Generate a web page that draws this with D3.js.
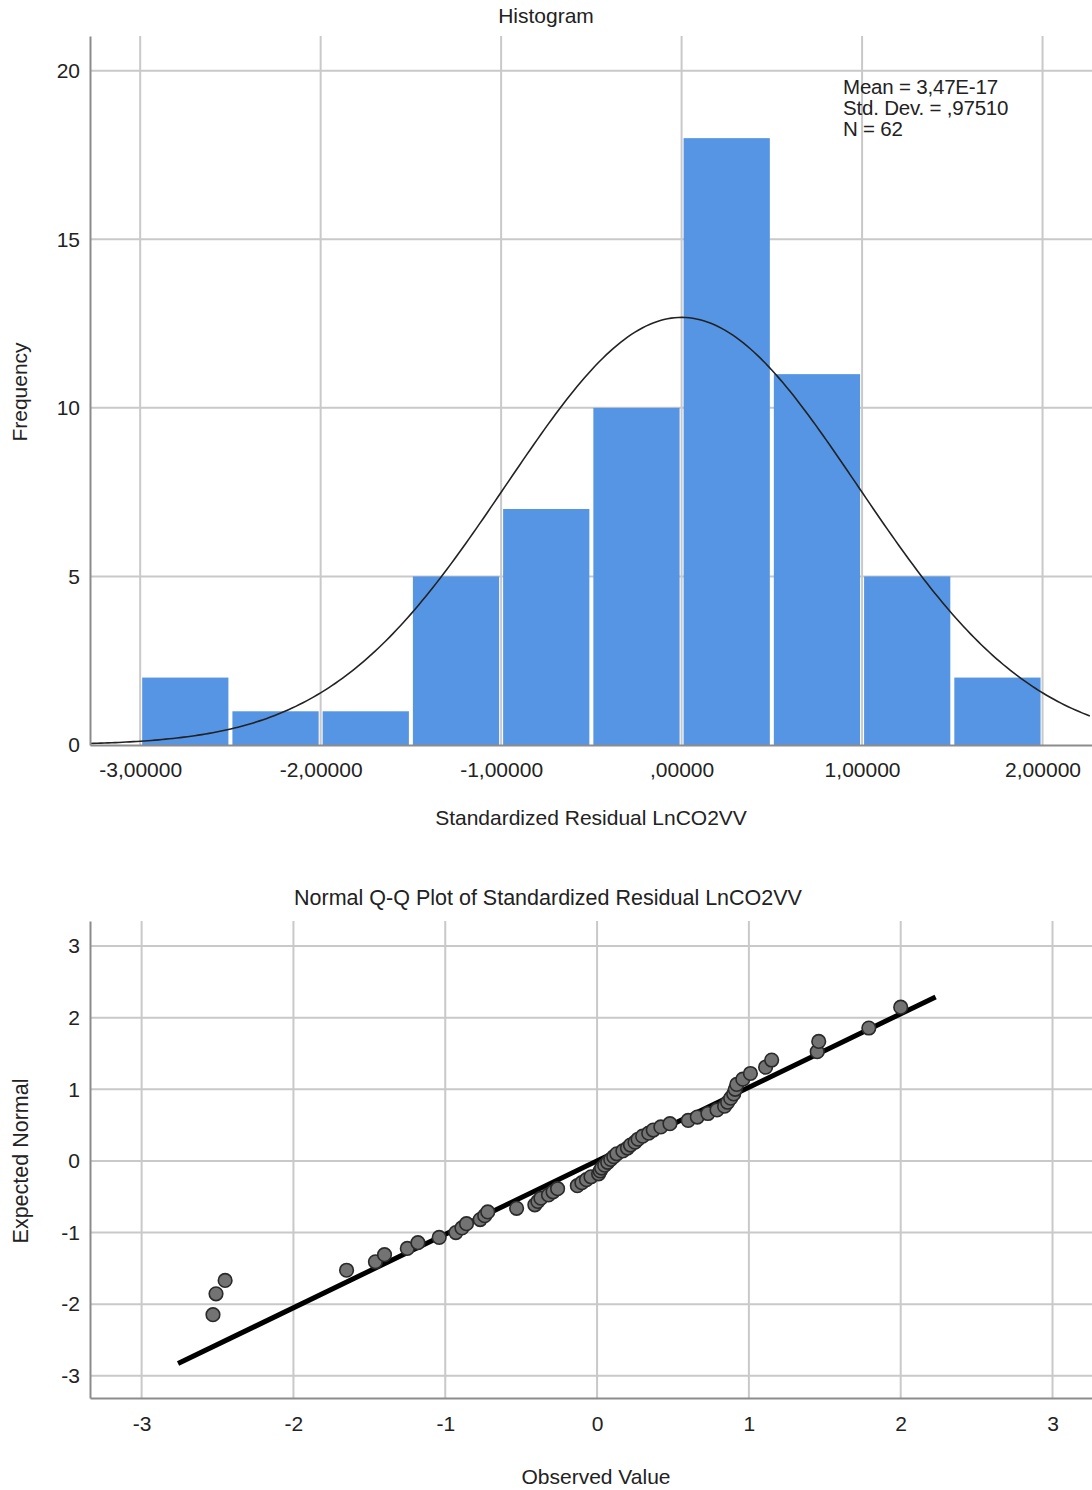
<!DOCTYPE html>
<html>
<head>
<meta charset="utf-8">
<script src="https://cdn.jsdelivr.net/npm/d3@7"></script>
<style>
  body { margin: 0; background: #fff; }
  svg text { font-family: "Liberation Sans", Arial, sans-serif; fill: #222; }
  .grid line { stroke: #c9c9c9; stroke-width: 2; }
  .axis path, .axis line { stroke: #8c8c8c; stroke-width: 2; }
</style>
</head>
<body>
<div id="chart"></div>
<script>
// histogram data
var histEdges = [-3, -2.5, -2, -1.5, -1, -0.5, 0, 0.5, 1, 1.5, 2];
var histCounts = [2, 1, 1, 5, 7, 10, 18, 11, 5, 2];
var histXTicks = [-3, -2, -1, 0, 1, 2];
var histXLabels = ["-3,00000", "-2,00000", "-1,00000", ",00000", "1,00000", "2,00000"];
var histYTicks = [0, 5, 10, 15, 20];
var statMean = 3.47e-17, statSD = 0.97510, statN = 62;
var statLines = ["Mean = 3,47E-17", "Std. Dev. = ,97510", "N = 62"];

// Q-Q data (observed residual, expected normal)
var qqObserved = [-2.53, -2.51, -2.45, -1.65, -1.46, -1.40, -1.25, -1.18, -1.04, -0.93,
  -0.89, -0.86, -0.77, -0.74, -0.72, -0.53, -0.41, -0.39, -0.37, -0.32,
  -0.29, -0.26, -0.13, -0.10, -0.07, -0.04, 0.01, 0.02, 0.03, 0.05,
  0.07, 0.09, 0.11, 0.13, 0.17, 0.20, 0.22, 0.25, 0.27, 0.30,
  0.34, 0.37, 0.42, 0.48, 0.60, 0.66, 0.73, 0.79, 0.84, 0.86,
  0.88, 0.90, 0.91, 0.92, 0.96, 1.01, 1.11, 1.15, 1.45, 1.46,
  1.79, 2.00];
var qqExpected = [-2.147, -1.856, -1.668, -1.526, -1.409, -1.309, -1.221, -1.141, -1.068, -1.000,
  -0.936, -0.876, -0.819, -0.765, -0.712, -0.662, -0.613, -0.566, -0.520, -0.475,
  -0.431, -0.388, -0.345, -0.303, -0.262, -0.221, -0.180, -0.140, -0.100, -0.060,
  -0.020, 0.020, 0.060, 0.100, 0.140, 0.180, 0.221, 0.262, 0.303, 0.345,
  0.388, 0.431, 0.475, 0.520, 0.566, 0.613, 0.662, 0.712, 0.765, 0.819,
  0.876, 0.936, 1.000, 1.068, 1.141, 1.221, 1.309, 1.409, 1.526, 1.668,
  1.856, 2.147];
var qqLineX = [-2.76, 2.23];
var qqLineY = [-2.83, 2.29];
var qqTicks = [-3, -2, -1, 0, 1, 2, 3];

var width = 1092, height = 1490;
var svg = d3.select('#chart').append('svg')
  .attr('width', width).attr('height', height);

var left = 90, right = 1092;
var fs = '21px';

// ---------- Histogram ----------
var hx = d3.scaleLinear().domain([-3.278, 2.274]).range([left, right]);
var hy = d3.scaleLinear().domain([0, 21.03]).range([745, 36]);

svg.append('text').attr('x', 546).attr('y', 23).attr('text-anchor', 'middle')
  .style('font-size', fs).text('Histogram');

var hg = svg.append('g');
hg.append('g').attr('class', 'grid')
  .selectAll('line').data(histYTicks.slice(1)).enter().append('line')
  .attr('x1', left).attr('x2', right)
  .attr('y1', function(d) { return hy(d); }).attr('y2', function(d) { return hy(d); });
hg.append('g').attr('class', 'grid')
  .selectAll('line').data(histXTicks).enter().append('line')
  .attr('x1', function(d) { return hx(d); }).attr('x2', function(d) { return hx(d); })
  .attr('y1', hy.range()[1]).attr('y2', hy(0));

var bins = histCounts.map(function(c, i) { return {x0: histEdges[i], x1: histEdges[i + 1], n: c}; });
hg.selectAll('.bar').data(bins).enter().append('rect')
  .attr('class', 'bar')
  .attr('x', function(d) { return hx(d.x0) + 2; })
  .attr('width', function(d) { return hx(d.x1) - hx(d.x0) - 4; })
  .attr('y', function(d) { return hy(d.n); })
  .attr('height', function(d) { return hy(0) - hy(d.n); })
  .attr('fill', '#5595e3');

// fitted normal curve from the reported mean / sd / N
var binW = histEdges[1] - histEdges[0];
var curve = d3.range(hx.domain()[0], hx.domain()[1] + 0.001, 0.02).map(function(v) {
  var z = (v - statMean) / statSD;
  return {x: v, y: statN * binW * Math.exp(-0.5 * z * z) / (statSD * Math.sqrt(2 * Math.PI))};
});
hg.append('path').datum(curve)
  .attr('d', d3.line().x(function(d) { return hx(d.x); }).y(function(d) { return hy(d.y); }))
  .attr('fill', 'none').attr('stroke', '#222').attr('stroke-width', 1.6);

hg.append('g').attr('class', 'axis')
  .attr('transform', 'translate(0,' + hy(0) + ')')
  .call(d3.axisBottom(hx).tickValues(histXTicks).tickSize(0)
    .tickFormat(function(d, i) { return histXLabels[i]; }))
  .call(function(g) { g.selectAll('text').attr('dy', '1.4em').style('font-size', fs); });
hg.append('g').attr('class', 'axis')
  .attr('transform', 'translate(' + left + ',0)')
  .call(d3.axisLeft(hy).tickValues(histYTicks).tickSize(0).tickPadding(10))
  .call(function(g) { g.selectAll('text').style('font-size', fs); });

hg.append('text').attr('transform', 'translate(27,392) rotate(-90)')
  .attr('text-anchor', 'middle').style('font-size', fs).text('Frequency');
hg.append('text').attr('x', (left + right) / 2).attr('y', 825)
  .attr('text-anchor', 'middle').style('font-size', fs).text('Standardized Residual LnCO2VV');

hg.append('g').selectAll('text').data(statLines).enter().append('text')
  .attr('x', 843).attr('y', function(d, i) { return 94 + i * 21; })
  .style('font-size', '20.5px').style('letter-spacing', '-0.2px').text(function(d) { return d; });

// ---------- Normal Q-Q plot ----------
var qx = d3.scaleLinear().domain([-3.34, 3.26]).range([left, right]);
var qy = d3.scaleLinear().domain([-3.31, 3.35]).range([1398, 921]);

svg.append('text').attr('x', 548).attr('y', 905).attr('text-anchor', 'middle')
  .style('font-size', '21.5px').text('Normal Q-Q Plot of Standardized Residual LnCO2VV');

var qg = svg.append('g');
qg.append('g').attr('class', 'grid')
  .selectAll('line').data(qqTicks).enter().append('line')
  .attr('x1', left).attr('x2', right)
  .attr('y1', function(d) { return qy(d); }).attr('y2', function(d) { return qy(d); });
qg.append('g').attr('class', 'grid')
  .selectAll('line').data(qqTicks).enter().append('line')
  .attr('x1', function(d) { return qx(d); }).attr('x2', function(d) { return qx(d); })
  .attr('y1', qy.range()[1]).attr('y2', qy.range()[0]);

qg.append('line')
  .attr('x1', qx(qqLineX[0])).attr('y1', qy(qqLineY[0]))
  .attr('x2', qx(qqLineX[1])).attr('y2', qy(qqLineY[1]))
  .attr('stroke', '#000').attr('stroke-width', 5);

var pts = qqObserved.map(function(v, i) { return {o: v, e: qqExpected[i]}; });
qg.selectAll('.pt').data(pts).enter().append('circle')
  .attr('class', 'pt')
  .attr('cx', function(d) { return qx(d.o); })
  .attr('cy', function(d) { return qy(d.e); })
  .attr('r', 6.8)
  .attr('fill', '#737373')
  .attr('stroke', '#2a2a2a').attr('stroke-width', 1.6);

var plain = function(d) { return String(d); };
qg.append('g').attr('class', 'axis')
  .attr('transform', 'translate(0,' + qy.range()[0] + ')')
  .call(d3.axisBottom(qx).tickValues(qqTicks).tickSize(0).tickFormat(plain))
  .call(function(g) { g.selectAll('text').attr('dy', '1.45em').style('font-size', fs); });
qg.append('g').attr('class', 'axis')
  .attr('transform', 'translate(' + left + ',0)')
  .call(d3.axisLeft(qy).tickValues(qqTicks).tickSize(0).tickPadding(10).tickFormat(plain))
  .call(function(g) { g.selectAll('text').style('font-size', fs); });

qg.append('text').attr('transform', 'translate(28,1161) rotate(-90)')
  .attr('text-anchor', 'middle').style('font-size', '21.5px').text('Expected Normal');
qg.append('text').attr('x', 596).attr('y', 1484)
  .attr('text-anchor', 'middle').style('font-size', fs).text('Observed Value');
</script>
</body>
</html>
